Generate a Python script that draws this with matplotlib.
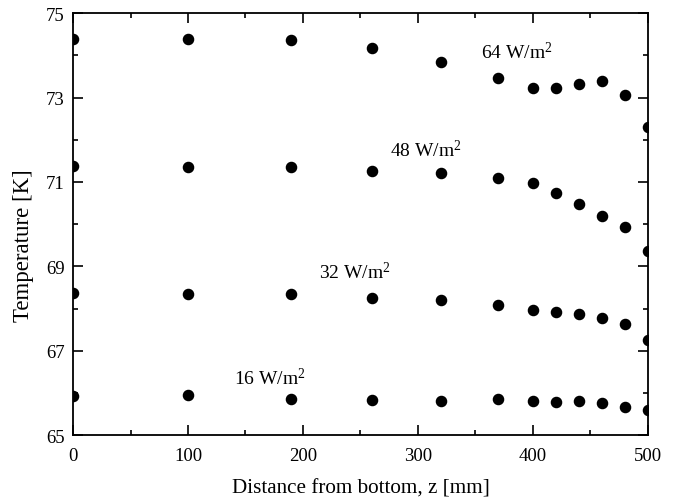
import matplotlib
matplotlib.use("Agg")
import matplotlib.pyplot as plt
from matplotlib.ticker import FixedLocator, MultipleLocator

plt.rcParams['font.family'] = ['Liberation Serif', 'DejaVu Serif']
plt.rcParams['mathtext.fontset'] = 'custom'
plt.rcParams['mathtext.rm'] = 'Liberation Serif'
plt.rcParams['mathtext.it'] = 'Liberation Serif:italic'

z = [0, 100, 190, 260, 320, 370, 400, 420, 440, 460, 480, 500]
t64 = [74.39, 74.38, 74.37, 74.16, 73.85, 73.45, 73.22, 73.22, 73.33, 73.38, 73.06, 72.29]
t48 = [71.39, 71.36, 71.35, 71.25, 71.21, 71.09, 70.98, 70.73, 70.48, 70.20, 69.93, 69.37]
t32 = [68.38, 68.36, 68.36, 68.25, 68.20, 68.09, 67.98, 67.93, 67.87, 67.79, 67.63, 67.27]
t16 = [65.94, 65.96, 65.86, 65.84, 65.82, 65.86, 65.81, 65.80, 65.81, 65.78, 65.68, 65.61]

y_major = [65, 67, 69, 71, 73, 75]
y_minor = [66, 68, 70, 72, 74]

labels = ["64 W/m$^2$", "48 W/m$^2$", "32 W/m$^2$", "16 W/m$^2$"]
label_pos = [(386, 74.08), (307, 71.78), (245, 68.87), (171, 66.38)]

fig = plt.figure(figsize=(6.81, 5.02), dpi=100)
ax = fig.add_axes([0.1072, 0.1305, 0.8443, 0.8416])

for series in (t64, t48, t32, t16):
    ax.plot(z, series, 'o', color='black', markersize=7.3, linestyle='none')

for lab, (x, y) in zip(labels, label_pos):
    ax.text(x, y, lab, ha='center', va='center', fontsize=14)

ax.set_xlim(0, 500)
ax.set_ylim(65, 75)
ax.xaxis.set_major_locator(MultipleLocator(100))
ax.xaxis.set_minor_locator(MultipleLocator(50))
ax.yaxis.set_major_locator(FixedLocator(y_major))
ax.yaxis.set_minor_locator(FixedLocator(y_minor))
ax.tick_params(which='both', direction='in', top=True, right=True, width=1.2, labelsize=13.5)
ax.tick_params(which='major', length=7)
ax.tick_params(which='minor', length=3.5)
ax.tick_params(axis='x', pad=8)
ax.tick_params(axis='y', pad=6)
for s in ax.spines.values():
    s.set_linewidth(1.3)

ax.set_xlabel("Distance from bottom, z [mm]", fontsize=15.2, labelpad=11)
fig.text(23.5 / 681, 1 - 246 / 502, "Temperature [K]", rotation=90,
         ha='center', va='center', fontsize=16.5)

fig.savefig("out.png", dpi=100)
